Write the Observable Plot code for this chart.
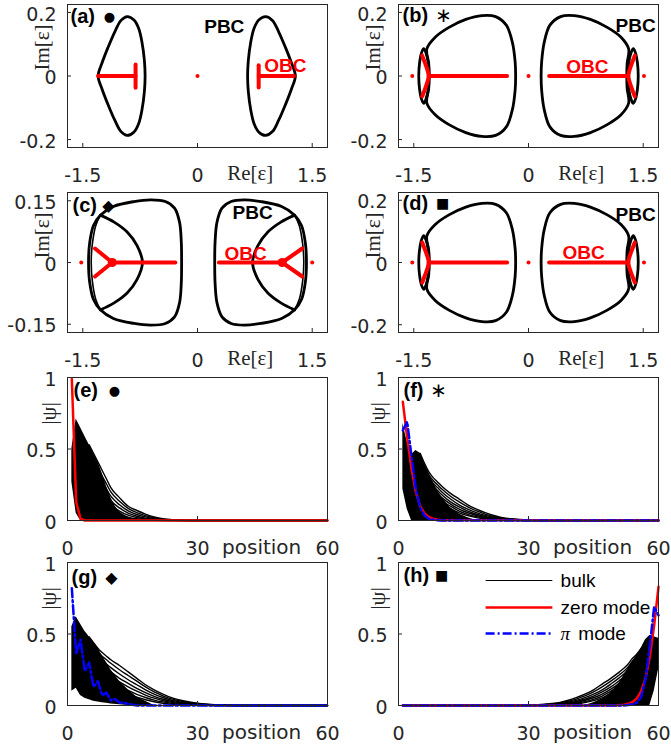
<!DOCTYPE html>
<html>
<head>
<meta charset="utf-8">
<script src="https://cdn.jsdelivr.net/npm/d3@7"></script>
<script src="https://cdn.jsdelivr.net/npm/@observablehq/plot@0.6"></script>
<style>
  html, body { margin: 0; padding: 0; background: #fff; }
  #chart { position: relative; width: 671px; height: 749px; overflow: hidden; background: #fff; }
</style>
</head>
<body>
<div id="chart"></div>
<script>
// ---------------- tick labels ----------------
const reTicks  = [-1.5, 0, 1.5];
const imTicks  = [-0.2, 0, 0.2];
const imTicksC = [-0.15, 0, 0.15];
const psiTicks = [0, 0.5, 1];
const posTicks = [0, 30, 60];
const tags        = ["(a)", "(b)", "(c)", "(d)", "(e)", "(f)", "(g)", "(h)"];
const tagSymbols  = ["●", "∗", "◆", "■", "●", "∗", "◆", "■"];
const legendLabels = ["bulk", "zero mode", "mode"];

// ---------------- (a) spectrum: [Re, Im] ----------------
const pbcA1 = [[-0.92,0.187],[-0.83,0.176],[-0.77,0.15],[-0.725,0.105],[-0.695,0.05],[-0.685,0],[-0.695,-0.05],[-0.725,-0.105],[-0.77,-0.15],[-0.83,-0.176],[-0.92,-0.187],[-1.0,-0.175],[-1.08,-0.14],[-1.17,-0.09],[-1.25,-0.04],[-1.30,0],[-1.25,0.04],[-1.17,0.09],[-1.08,0.14],[-1.0,0.175]];
const pbcA2 = [[0.89,0.187],[0.98,0.175],[1.06,0.14],[1.15,0.09],[1.23,0.04],[1.28,0],[1.23,-0.04],[1.15,-0.09],[1.06,-0.14],[0.98,-0.175],[0.89,-0.187],[0.80,-0.176],[0.74,-0.15],[0.695,-0.105],[0.665,-0.05],[0.655,0],[0.665,0.05],[0.695,0.105],[0.74,0.15],[0.80,0.176]];
const obcSegA = [[-1.30,0,-0.81,0],[-0.81,0.036,-0.81,-0.037],[0.80,0.034,0.80,-0.036],[0.80,0,1.26,0]];
const obcDotA = [[0,0]];

// ---------------- (b) and (d) spectrum ----------------
const pbcB1 = [[-1.33,0.085],[-1.22,0.122],[-1.04,0.153],[-0.82,0.178],[-0.61,0.19],[-0.43,0.187],[-0.29,0.16],[-0.21,0.105],[-0.175,0.045],[-0.168,0],[-0.175,-0.045],[-0.21,-0.105],[-0.29,-0.16],[-0.43,-0.187],[-0.61,-0.19],[-0.82,-0.178],[-1.04,-0.153],[-1.22,-0.122],[-1.33,-0.085],[-1.305,-0.04],[-1.30,0],[-1.305,0.04]];
const pbcB2 = [[-1.37,0.086],[-1.40,0.072],[-1.425,0.04],[-1.435,0],[-1.425,-0.04],[-1.40,-0.072],[-1.37,-0.086],[-1.34,-0.072],[-1.31,-0.04],[-1.30,0],[-1.31,0.04],[-1.34,0.072]];
const pbcB3 = [[1.31,0.085],[1.21,0.122],[1.03,0.153],[0.81,0.178],[0.60,0.19],[0.42,0.187],[0.28,0.16],[0.205,0.105],[0.172,0.045],[0.165,0],[0.172,-0.045],[0.205,-0.105],[0.28,-0.16],[0.42,-0.187],[0.60,-0.19],[0.81,-0.178],[1.03,-0.153],[1.21,-0.122],[1.31,-0.085],[1.29,-0.04],[1.285,0],[1.29,0.04]];
const pbcB4 = [[1.37,0.086],[1.40,0.072],[1.425,0.04],[1.435,0],[1.425,-0.04],[1.40,-0.072],[1.37,-0.086],[1.34,-0.072],[1.31,-0.04],[1.30,0],[1.31,0.04],[1.34,0.072]];
const obcArcB1 = [[-1.39,0.064],[-1.355,0.042],[-1.318,0.016],[-1.305,0],[-1.318,-0.016],[-1.355,-0.042],[-1.39,-0.064]];
const obcArcB2 = [[1.39,0.064],[1.355,0.042],[1.318,0.016],[1.305,0],[1.318,-0.016],[1.355,-0.042],[1.39,-0.064]];
const obcSegB = [[-1.305,0,-0.28,0],[0.27,0,1.305,0]];
const obcDotB = [[-1.52,0],[0,0],[1.51,0]];

// ---------------- (c) spectrum ----------------
const pbcC1 = [[-1.27,0.115],[-1.10,0.136],[-0.83,0.148],[-0.61,0.152],[-0.42,0.148],[-0.30,0.132],[-0.235,0.098],[-0.212,0.05],[-0.208,0],[-0.212,-0.05],[-0.235,-0.098],[-0.30,-0.132],[-0.42,-0.148],[-0.61,-0.152],[-0.83,-0.148],[-1.10,-0.136],[-1.27,-0.115],[-1.36,-0.09],[-1.41,-0.048],[-1.425,0],[-1.41,0.048],[-1.36,0.09]];
const pbcC2 = [[-1.27,0.115],[-1.09,0.098],[-0.92,0.074],[-0.79,0.041],[-0.72,0],[-0.79,-0.041],[-0.92,-0.074],[-1.09,-0.098],[-1.27,-0.115]];
const pbcC3 = [[-1.27,0.115],[-1.33,0.09],[-1.375,0.045],[-1.39,0],[-1.375,-0.045],[-1.33,-0.09],[-1.27,-0.115]];
const pbcC4 = [[1.27,0.115],[1.10,0.136],[0.83,0.148],[0.61,0.152],[0.44,0.148],[0.32,0.132],[0.255,0.098],[0.23,0.05],[0.225,0],[0.23,-0.05],[0.255,-0.098],[0.32,-0.132],[0.44,-0.148],[0.61,-0.152],[0.83,-0.148],[1.10,-0.136],[1.27,-0.115],[1.36,-0.09],[1.41,-0.048],[1.425,0],[1.41,0.048],[1.36,0.09]];
const pbcC5 = [[1.27,0.115],[1.09,0.098],[0.92,0.074],[0.79,0.041],[0.72,0],[0.79,-0.041],[0.92,-0.074],[1.09,-0.098],[1.27,-0.115]];
const pbcC6 = [[1.27,0.115],[1.33,0.09],[1.375,0.045],[1.39,0],[1.375,-0.045],[1.33,-0.09],[1.27,-0.115]];
const obcSegC = [[-1.115,0,-0.29,0],[-1.115,0,-1.34,0.034],[-1.115,0,-1.34,-0.034],[0.28,0,1.107,0],[1.107,0,1.37,0.034],[1.107,0,1.37,-0.034]];
const obcDotC = [[-1.52,0],[1.50,0]];
const obcJunctionC = [[-1.115,0],[1.107,0]];

// ---------------- (e)-(h) wave functions: |psi| vs position ----------------
const tailPos  = [5,6,7,8,9,10,12,14,16,18,20,22,24,27,30,35,40,60];
const tailPosH = [56,55,54,53,52,51,49,47,45,43,41,39,37,34,31,26,21,1];

// (e)
const corePosE = [1,2,3,4,5,6,7,8,9,10,11,12,14,16];
const coreHiE  = [0.50,0.71,0.65,0.59,0.53,0.47,0.41,0.33,0.24,0.16,0.10,0.06,0.02,0];
const coreLoE  = [0.27,0.05,0,0,0,0,0,0,0,0,0,0,0,0];
const bulkE = [
  [0.53,0.47,0.41,0.35,0.29,0.23,0.16,0.10,0.07,0.045,0.025,0.012,0.006,0.002,0,0,0,0],
  [0.50,0.43,0.37,0.31,0.255,0.20,0.135,0.085,0.055,0.034,0.019,0.009,0.004,0.001,0,0,0,0],
  [0.46,0.39,0.33,0.27,0.22,0.17,0.11,0.068,0.042,0.025,0.013,0.006,0.003,0.001,0,0,0,0],
  [0.42,0.35,0.29,0.23,0.185,0.14,0.088,0.052,0.03,0.017,0.009,0.004,0.002,0,0,0,0,0],
  [0.38,0.31,0.25,0.195,0.15,0.11,0.066,0.037,0.02,0.011,0.005,0.002,0.001,0,0,0,0,0],
  [0.33,0.26,0.20,0.155,0.115,0.083,0.046,0.024,0.012,0.006,0.003,0.001,0,0,0,0,0,0],
  [0.28,0.21,0.155,0.115,0.082,0.057,0.029,0.014,0.007,0.003,0.001,0,0,0,0,0,0,0]
];
const zeroPosE = [1,2,3,4,60];
const zeroE    = [0.99,0.13,0.012,0,0];

// (f)
const corePosF = [1,2,3,4,5,6,7,8,9,10,12,14,16,18];
const coreHiF  = [0.68,0.55,0.46,0.49,0.47,0.40,0.33,0.27,0.21,0.16,0.09,0.045,0.02,0];
const coreLoF  = [0.22,0.08,0,0,0,0,0,0,0,0,0,0,0,0];
const bulkF = [
  [0.47,0.40,0.34,0.30,0.27,0.24,0.19,0.15,0.11,0.08,0.055,0.035,0.02,0.01,0.003,0,0,0],
  [0.45,0.38,0.32,0.28,0.25,0.22,0.17,0.13,0.095,0.067,0.045,0.028,0.016,0.007,0.002,0,0,0],
  [0.43,0.36,0.30,0.26,0.23,0.20,0.15,0.11,0.08,0.055,0.036,0.022,0.012,0.005,0.001,0,0,0],
  [0.41,0.34,0.28,0.24,0.21,0.18,0.13,0.095,0.066,0.044,0.028,0.016,0.009,0.003,0.001,0,0,0],
  [0.38,0.31,0.26,0.22,0.19,0.16,0.115,0.08,0.054,0.035,0.021,0.012,0.006,0.002,0,0,0,0],
  [0.35,0.29,0.24,0.20,0.17,0.14,0.10,0.066,0.043,0.027,0.016,0.008,0.004,0.001,0,0,0,0],
  [0.32,0.26,0.21,0.18,0.15,0.12,0.083,0.054,0.034,0.02,0.011,0.005,0.002,0,0,0,0,0]
];
const modePosF = [1,2,3,4,5,6,7,8,9,10,60];
const zeroF    = [0.83,0.58,0.36,0.20,0.10,0.05,0.025,0.012,0.005,0.002,0];
const piF      = [0.63,0.69,0.45,0.22,0.09,0.035,0.012,0.005,0.002,0,0];

// (g)
const corePosG = [1,2,3,4,5,6,7,8,9,10,12,14,16,18,20];
const coreHiG  = [0.55,0.62,0.57,0.52,0.48,0.44,0.40,0.35,0.30,0.25,0.17,0.11,0.06,0.03,0];
const coreLoG  = [0.10,0.12,0.07,0.05,0.04,0.03,0.025,0.02,0.015,0.01,0.005,0,0,0,0];
const bulkG = [
  [0.48,0.44,0.40,0.37,0.345,0.32,0.28,0.235,0.19,0.145,0.11,0.08,0.055,0.032,0.016,0.004,0,0],
  [0.45,0.41,0.375,0.345,0.32,0.295,0.25,0.21,0.17,0.13,0.095,0.068,0.046,0.026,0.012,0.003,0,0],
  [0.42,0.38,0.345,0.315,0.29,0.265,0.22,0.18,0.145,0.11,0.08,0.056,0.037,0.02,0.009,0.002,0,0],
  [0.39,0.35,0.315,0.285,0.26,0.235,0.19,0.155,0.12,0.09,0.064,0.044,0.029,0.015,0.007,0.001,0,0],
  [0.36,0.32,0.285,0.255,0.23,0.205,0.165,0.13,0.10,0.073,0.051,0.034,0.022,0.011,0.005,0,0,0],
  [0.32,0.285,0.25,0.22,0.195,0.17,0.135,0.105,0.078,0.056,0.038,0.025,0.015,0.007,0.003,0,0,0],
  [0.28,0.245,0.21,0.185,0.16,0.14,0.105,0.08,0.058,0.04,0.026,0.016,0.009,0.004,0.001,0,0,0]
];
const piPosG = [1,2,3,4,5,6,7,8,9,10,11,12,13,14,16,60];
const piG    = [0.82,0.36,0.46,0.24,0.30,0.13,0.17,0.07,0.09,0.035,0.045,0.02,0.02,0.01,0,0];

// (h)
const corePosH = [60,59,58,57,56,55,54,53,52,51,49,47,45,43];
const coreHiH  = [0.47,0.48,0.49,0.46,0.40,0.35,0.31,0.26,0.21,0.16,0.09,0.045,0.02,0];
const coreLoH  = [0.25,0.10,0,0,0,0,0,0,0,0,0,0,0,0];
const bulkH = [
  [0.40,0.36,0.33,0.29,0.26,0.235,0.19,0.15,0.11,0.08,0.055,0.035,0.02,0.01,0.003,0,0,0],
  [0.39,0.345,0.31,0.27,0.24,0.215,0.17,0.13,0.095,0.067,0.045,0.028,0.016,0.007,0.002,0,0,0],
  [0.37,0.33,0.29,0.25,0.22,0.195,0.15,0.11,0.08,0.055,0.036,0.022,0.012,0.005,0.001,0,0,0],
  [0.355,0.31,0.27,0.23,0.20,0.175,0.13,0.095,0.066,0.044,0.028,0.016,0.009,0.003,0.001,0,0,0],
  [0.34,0.29,0.25,0.21,0.18,0.155,0.115,0.08,0.054,0.035,0.021,0.012,0.006,0.002,0,0,0,0],
  [0.32,0.27,0.23,0.19,0.16,0.135,0.10,0.066,0.043,0.027,0.016,0.008,0.004,0.001,0,0,0,0],
  [0.30,0.25,0.21,0.17,0.14,0.115,0.083,0.054,0.034,0.02,0.011,0.005,0.002,0,0,0,0,0]
];
const zeroPosH = [1,50,52,53,54,55,56,57,58,59,60];
const zeroH    = [0,0,0.005,0.012,0.025,0.05,0.10,0.19,0.34,0.56,0.83];
const piPosH   = [1,52,53,54,55,56,57,58,59,60];
const piH      = [0,0,0.004,0.008,0.02,0.06,0.18,0.42,0.69,0.63];

// ---------------- drawing ----------------
const FONT  = "'Liberation Sans', Arial, Helvetica, sans-serif";
const TICKFONT = "'DejaVu Sans', 'Liberation Sans', sans-serif";
const SERIF = "'Liberation Serif', 'Times New Roman', serif";
const INK = "#262626", RED = "#ff0000", BLUE = "#0000ff", DASH = "9,3,2,3";
const chart = document.getElementById("chart");

const ROWS = [
  {top: 0,   h: 185, mt: 4, mb: 38},
  {top: 185, h: 185, mt: 7, mb: 38},
  {top: 370, h: 185, mt: 7, mb: 35},
  {top: 555, h: 194, mt: 7, mb: 44}
];
const COLS = [
  {left: 0,   w: 335, ml: 67, mr: 8},
  {left: 335, w: 336, ml: 63, mr: 13}
];

const X = d => d[0], Y = d => d[1];
const loop = (pts, w = 2.8) => Plot.line(pts, {x: X, y: Y, stroke: "black", strokeWidth: w, curve: "catmull-rom-closed"});
const arc  = (pts, color = "black", w = 2.8) => Plot.line(pts, {x: X, y: Y, stroke: color, strokeWidth: w, curve: "catmull-rom"});
const segs = (s) => Plot.link(s, {x1: d => d[0], y1: d => d[1], x2: d => d[2], y2: d => d[3], stroke: RED, strokeWidth: 4, strokeLinecap: "round"});
const dots = (p, r = 2) => Plot.dot(p, {x: X, y: Y, r, fill: RED, stroke: null});
const label = (t, x, y, color) => Plot.text([t], {x, y, fill: color, fontWeight: "bold", fontSize: 19, fontFamily: FONT});

function coreArea(pos, lo, hi) {
  return Plot.areaY(pos.map((p, i) => ({p, lo: lo[i], hi: hi[i]})), {x: "p", y1: "lo", y2: "hi", fill: "black", curve: "linear"});
}
function fan(pos, rows) {
  const data = rows.flatMap((vals, k) => vals.map((v, i) => ({p: pos[i], v, k})));
  return Plot.line(data, {x: "p", y: "v", z: "k", stroke: "black", strokeWidth: 1.4, curve: "monotone-x"});
}
function mode(pos, vals, kind) {
  const data = pos.map((p, i) => ({p, v: vals[i]}));
  return kind === "zero"
    ? Plot.line(data, {x: "p", y: "v", stroke: RED, strokeWidth: 2.5})
    : Plot.line(data, {x: "p", y: "v", stroke: BLUE, strokeWidth: 2.5, strokeDasharray: DASH});
}

function panel(i, cfg) {
  const row = ROWS[Math.floor(i / 2)], col = COLS[i % 2];
  const innerW = col.w - col.ml - col.mr, innerH = row.h - row.mt - row.mb;
  const [x0, x1] = cfg.xDomain, [y0, y1] = cfg.yDomain;
  const tx = (x1 - x0) * 4 / innerW, ty = (y1 - y0) * 4 / innerH;
  const svg = Plot.plot({
    width: col.w, height: row.h,
    marginLeft: col.ml, marginRight: col.mr, marginTop: row.mt, marginBottom: row.mb,
    style: {background: "transparent", fontFamily: FONT, fontSize: "19px", color: INK, overflow: "visible"},
    x: {domain: cfg.xDomain, axis: null},
    y: {domain: cfg.yDomain, axis: null},
    marks: [
      ...cfg.marks,
      // ticks (inside the box) and tick labels
      Plot.ruleX(cfg.xTicks, {x: d => d, y1: y0, y2: y0 + ty, stroke: INK}),
      Plot.ruleY(cfg.yTicks, {y: d => d, x1: x0, x2: x0 + tx, stroke: INK}),
      Plot.text(cfg.xTicks, {x: d => d, y: y0, text: d => String(d), dy: 21, lineAnchor: "top", fontFamily: TICKFONT, fontSize: 19, fill: INK}),
      Plot.text(cfg.yTicks, {x: x0, y: d => d, text: d => String(d), dx: -11, dy: 2, textAnchor: "end", lineAnchor: "middle", fontFamily: TICKFONT, fontSize: 19, fill: INK}),
      Plot.frame({stroke: INK}),
      Plot.text([tags[i]], {frameAnchor: "top-left", dx: cfg.tagDx, dy: cfg.tagDy, fontWeight: "bold", fontSize: 20, textAnchor: "start", lineAnchor: "middle", fill: "black", fontFamily: FONT}),
      Plot.text([tagSymbols[i]], {frameAnchor: "top-left", dx: cfg.symDx, dy: cfg.tagDy, fontSize: cfg.symSize, textAnchor: "middle", lineAnchor: "middle", fill: "black", fontFamily: "'DejaVu Sans'"}),
      Plot.text([cfg.xLabel], {x: cfg.xLabelAt, frameAnchor: "bottom", dy: cfg.xLabelDy, lineAnchor: "top", fontFamily: cfg.xLabelFont, fontSize: cfg.xLabelSize, fill: INK}),
      Plot.text([cfg.yLabel], {frameAnchor: "top-left", dx: cfg.yLabelDx, dy: cfg.yLabelDy, rotate: -90, fontFamily: SERIF, fontSize: cfg.yLabelSize, fill: INK, textAnchor: "middle", lineAnchor: "middle"})
    ]
  });
  svg.style.position = "absolute";
  svg.style.left = col.left + "px";
  svg.style.top = row.top + "px";
  chart.appendChild(svg);
}

const specBase = {xDomain: [-1.7, 1.7], xTicks: reTicks, xLabel: "Re[ε]", xLabelAt: 0.69, xLabelDy: 18, xLabelFont: SERIF, xLabelSize: 21, yLabel: "Im[ε]", yLabelDx: -25, yLabelDy: 43, yLabelSize: 21};
const psiBase  = {xDomain: [0, 60], xTicks: posTicks, yDomain: [0, 1], yTicks: psiTicks, xLabel: "position", xLabelAt: 44.8, xLabelDy: 19, xLabelFont: TICKFONT, xLabelSize: 20, yLabel: "|ψ|", yLabelDy: 36, yLabelSize: 22};

// (a)
panel(0, {...specBase, yDomain: [-0.225, 0.225], yTicks: imTicks, tagDx: 3, tagDy: 12, symDx: 42, symSize: 13,
  marks: [loop(pbcA1), loop(pbcA2), segs(obcSegA), dots(obcDotA), label("PBC", 0.35, 0.154, "black"), label("OBC", 1.15, 0.031, RED)]});
// (b)
panel(1, {...specBase, yDomain: [-0.225, 0.225], yTicks: imTicks, tagDx: 4, tagDy: 11, symDx: 45, symSize: 20,
  marks: [loop(pbcB1), loop(pbcB2), loop(pbcB3), loop(pbcB4), arc(obcArcB1, RED, 4), arc(obcArcB2, RED, 4), segs(obcSegB), dots(obcDotB),
          label("PBC", 1.40, 0.157, "black"), label("OBC", 0.77, 0.028, RED)]});
// (c)
panel(2, {...specBase, yDomain: [-0.17, 0.17], yTicks: imTicksC, tagDx: 5, tagDy: 13, symDx: 41, symSize: 16,
  marks: [loop(pbcC1), arc(pbcC2), arc(pbcC3, "black", 1.6), loop(pbcC4), arc(pbcC5), arc(pbcC6, "black", 1.6),
          segs(obcSegC), dots(obcDotC), dots(obcJunctionC, 4.5), label("PBC", 0.72, 0.12, "black"), label("OBC", 0.63, 0.022, RED)]});
// (d)  (same spectrum as (b))
panel(3, {...specBase, yDomain: [-0.225, 0.225], yTicks: imTicks, tagDx: 4, tagDy: 11, symDx: 44, symSize: 14,
  marks: [loop(pbcB1), loop(pbcB2), loop(pbcB3), loop(pbcB4), arc(obcArcB1, RED, 4), arc(obcArcB2, RED, 4), segs(obcSegB), dots(obcDotB),
          label("PBC", 1.40, 0.154, "black"), label("OBC", 0.72, 0.031, RED)]});
// (e)
panel(4, {...psiBase, yLabelDx: -19, tagDx: 6, tagDy: 13, symDx: 47, symSize: 13,
  marks: [coreArea(corePosE, coreLoE, coreHiE), fan(tailPos, bulkE), mode(zeroPosE, zeroE, "zero")]});
// (f)
panel(5, {...psiBase, yLabelDx: -21, tagDx: 5, tagDy: 13, symDx: 40, symSize: 20,
  marks: [coreArea(corePosF, coreLoF, coreHiF), fan(tailPos, bulkF), mode(modePosF, zeroF, "zero"), mode(modePosF, piF, "pi")]});
// (g)
panel(6, {...psiBase, yLabelDx: -19, tagDx: 4, tagDy: 15, symDx: 44, symSize: 16,
  marks: [coreArea(corePosG, coreLoG, coreHiG), fan(tailPos, bulkG), mode(piPosG, piG, "pi")]});
// (h)
panel(7, {...psiBase, yLabelDx: -21, tagDx: 5, tagDy: 13, symDx: 43, symSize: 14,
  marks: [coreArea(corePosH, coreLoH, coreHiH), fan(tailPosH, bulkH), mode(zeroPosH, zeroH, "zero"), mode(piPosH, piH, "pi"),
          Plot.link([0], {x1: 20.1, x2: 35.5, y1: 0.874, y2: 0.874, stroke: "black", strokeWidth: 1}),
          Plot.link([0], {x1: 20.1, x2: 35.5, y1: 0.685, y2: 0.685, stroke: RED, strokeWidth: 2.5}),
          Plot.link([0], {x1: 20.1, x2: 35.5, y1: 0.503, y2: 0.503, stroke: BLUE, strokeWidth: 2.5, strokeDasharray: DASH}),
          Plot.text([legendLabels[0]], {x: 37.4, y: 0.874, textAnchor: "start", fontSize: 19, fill: "black", fontFamily: FONT}),
          Plot.text([legendLabels[1]], {x: 37.4, y: 0.685, textAnchor: "start", fontSize: 19, fill: "black", fontFamily: FONT}),
          Plot.text(["π"], {x: 37.4, y: 0.503, textAnchor: "start", fontSize: 19, fill: "black", fontFamily: SERIF, fontStyle: "italic"}),
          Plot.text([legendLabels[2]], {x: 41.5, y: 0.503, textAnchor: "start", fontSize: 19, fill: "black", fontFamily: FONT})]});
</script>
</body>
</html>
